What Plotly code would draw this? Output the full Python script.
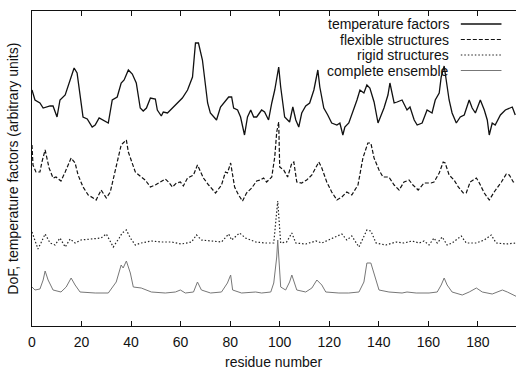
import plotly.graph_objects as go

# ---- data (residue number, arbitrary-unit values) ----
temp_res = [0, 1.2, 3.2, 4.5, 7.3, 8.5, 10.1, 11.3, 13.4, 15.4, 17, 18.2, 19.4, 20.6, 22.3, 24.3, 25.5, 27.1,
            30.8, 32.4, 34.4, 36, 37.2, 38.9, 40.5, 42.1, 43.7, 44.9, 46.2, 47.8, 49.8, 50.6, 52.2, 53, 54.7,
            57.1, 60.7, 62.8, 64.8, 66, 67.2, 68.8, 70.9, 72, 74.5, 76.1, 77.7, 79.4, 80.6, 81.4, 83, 84.2,
            85.8, 87, 88.3, 89.5, 90.7, 92.7, 93.9, 95.5, 96.8, 98, 99.6, 100.4, 102, 104, 105.3, 106.5, 107.7,
            108.9, 110.5, 112.1, 113.8, 115.4, 116.2, 117.8, 119.4, 121, 123.1, 124.3, 125.5, 126.3, 127.9,
            129.1, 131.2, 132.4, 134, 135.2, 136.4, 138.1, 139.7, 142.1, 143.7, 144.5, 146.2, 147.4, 149.4,
            151.4, 152.6, 154.3, 155.5, 157.5, 158.7, 159.5, 161.5, 162.8, 164.4, 165.2, 166.4, 168.4, 169.6,
            171.3, 172.9, 174.5, 176.5, 177.7, 179, 181, 182.6, 183.8, 184.6, 185.8, 187, 189.1, 191.1, 193.9,
            195.1]
temp_val = [236, 226, 223, 218, 220, 220, 209, 226, 231, 246, 258, 253, 229, 209, 207, 199, 201, 208,
            203, 226, 229, 243, 246, 256, 252, 243, 218, 215, 218, 228, 227, 216, 210, 214, 213,
            219, 228, 236, 249, 283, 283, 266, 223, 213, 206, 219, 224, 229, 229, 218, 216, 209,
            191, 209, 216, 209, 209, 216, 214, 206, 223, 236, 259, 239, 209, 204, 219, 206, 199,
            213, 220, 223, 236, 256, 239, 218, 211, 203, 201, 203, 191, 199, 203,
            211, 226, 236, 233, 241, 238, 224, 203, 218, 231, 243, 223, 224, 226,
            216, 219, 206, 201, 203, 211, 216, 213, 226, 233, 249, 260, 226, 213,
            203, 209, 211, 226, 218, 213, 226, 216, 206, 191, 203, 201, 211, 216, 219,
            211]

flex_res = [0, 0.4, 1.6, 3.2, 4, 5.3, 6.9, 8.5, 9.7, 11.7, 13.4, 15.8, 17.4, 18.6, 20.6, 22.7, 24.7, 25.9,
            27.9, 30, 31.6, 33.2, 34.8, 36, 36.8, 38.1, 38.9, 40.1, 41.7, 44.1, 45.7, 47.8, 49.8, 51.8, 53.8,
            55.1, 56.7, 58.3, 59.9, 61.1, 62.8, 65.2, 66.8, 69.2, 71.3, 74.1, 76.5, 78.1, 78.9, 80.2, 81.8,
            83.4, 85, 86.6, 88.7, 90.7, 92.3, 93.5, 94.7, 96.8, 98, 98.8, 99.6, 100, 101.6, 103.2, 104.9,
            105.7, 106.9, 108.9, 110.9, 113, 115.8, 117, 119, 121, 123.1, 125.1, 127.1, 129.1, 131.6, 133.6,
            135.6, 136.8, 138.1, 140.1, 141.7, 144.1, 146.2, 148.2, 150.2, 152.2, 153.8, 155.9, 158.3, 161.1,
            162.3, 164.4, 166, 166.8, 168.4, 170.4, 172.1, 174.1, 175.3, 176.9, 179.4, 180.6, 182.6, 184.6,
            186.6, 189.5, 191.5, 192.7, 194.3, 195.5]
flex_val = [181, 161, 154, 154, 164, 176, 158, 148, 149, 145, 154, 168, 163, 151, 139, 131, 128, 126,
            136, 128, 134, 151, 168, 181, 183, 186, 174, 166, 154, 149, 146, 139, 141, 144, 147,
            144, 139, 143, 144, 140, 148, 151, 161, 148, 141, 133, 141, 154, 153, 163, 139,
            131, 125, 133, 138, 145, 146, 148, 144, 149, 169, 194, 204, 159, 156, 149, 163,
            164, 144, 143, 146, 151, 164, 158, 144, 134, 126, 129, 134, 131, 141, 168,
            183, 183, 168, 156, 149, 149, 141, 136, 144, 146, 141, 136, 143, 143,
            144, 153, 164, 163, 151, 146, 139, 133, 133, 144, 148, 143, 133, 126,
            134, 144, 152, 151, 144, 144]

rigid_res = [0, 1.2, 2.4, 3.6, 5.3, 7.3, 9.3, 11.3, 13.4, 15.4, 17.4, 19.8, 23.9, 27.9, 30, 32.8, 35.2,
             36.4, 38.1, 39.7, 41.7, 44.1, 48.2, 52.2, 56.3, 60.3, 64.4, 66.4, 68.4, 72.5, 76.5, 79.4, 80.6,
             83.8, 86.2, 90.3, 94.3, 97.6, 98.4, 99.2, 100.4, 102.8, 104.9, 106.5, 110.5, 114.6, 117, 122.7,
             125.1, 127.1, 129.1, 132, 134, 135.2, 136.8, 138.9, 142.9, 147, 150.2, 153.4, 156.3, 158.3,
             160.3, 162.3, 163.6, 165.6, 167.6, 169.6, 173.3, 175.3, 179.4, 182.6, 185.4, 187.4, 191.5, 195.5]
rigid_val = [94, 86, 77, 83, 92, 83, 81, 88, 79, 87, 83, 86, 87, 88, 92, 79, 88,
             93, 96, 88, 81, 83, 85, 84, 84, 82, 84, 91, 86, 85, 84, 92, 86,
             93, 88, 84, 83, 83, 103, 125, 83, 84, 93, 83, 82, 85, 83, 89,
             92, 86, 90, 79, 89, 96, 95, 83, 81, 84, 83, 85, 83, 85,
             81, 88, 83, 89, 81, 83, 90, 83, 83, 86, 91, 83, 82, 83]

comp_res = [0, 1.2, 3.2, 4.5, 5.3, 6.5, 8.5, 11.7, 13.8, 15.8, 17.4, 19.4, 25.5, 30.8, 34, 36, 36.8, 38.1,
            39.7, 40.9, 44.1, 48.2, 53.8, 57.9, 59.9, 61.9, 65.2, 66.8, 68.4, 72.1, 76.5, 78.1, 78.9, 80.2,
            81, 84.6, 90.3, 92.7, 96.4, 97.6, 98.8, 99.2, 100.4, 102.4, 104, 104.9, 106.1, 106.9, 110.5, 113,
            115, 117, 118.6, 123.9, 127.9, 132, 134, 135.2, 136.8, 138.5, 140.1, 144.1, 149.4, 151.4, 155.1,
            160.3, 163.6, 165.2, 166.4, 167.6, 169.6, 173.7, 176.5, 179.4, 181.8, 185.8, 189.9, 191.9, 194.7, 196]
comp_val = [39, 36, 37, 46, 55, 46, 36, 34, 39, 48, 41, 34, 33, 33, 44, 61, 58, 65,
            53, 39, 38, 34, 33, 34, 36, 33, 34, 44, 36, 33, 34, 41, 43, 51,
            36, 33, 34, 33, 34, 43, 69, 86, 39, 36, 44, 51, 43, 36, 34, 38,
            46, 41, 34, 33, 33, 34, 44, 63, 63, 48, 36, 34, 33, 34, 33,
            33, 34, 41, 48, 41, 34, 31, 34, 38, 34, 32, 36, 34, 30, 29]

legend_labels = ["temperature factors", "flexible structures", "rigid structures", "complete ensemble"]
x_ticks = [0, 20, 40, 60, 80, 100, 120, 140, 160, 180]
x_title = "residue number"
y_title = "DoF, temperature factors (arbitrary units)"

FONT = "Liberation Sans, Arial, Helvetica, sans-serif"

styles = [
    dict(color="#111111", width=1.3, dash="solid"),
    dict(color="#111111", width=1.2, dash="4px,2px"),
    dict(color="#222222", width=1.2, dash="1.5px,2px"),
    dict(color="#777777", width=1.0, dash="solid"),
]
series = [(temp_res, temp_val), (flex_res, flex_val), (rigid_res, rigid_val), (comp_res, comp_val)]

fig = go.Figure()
for (xr, yv), st, name in zip(series, styles, legend_labels):
    fig.add_trace(go.Scatter(x=xr, y=yv, mode="lines", line=st, name=name, showlegend=False,
                             hoverinfo="skip"))

# gnuplot-style key: right-aligned text with sample line on the right
shapes = []
annotations = []
for i, (name, st) in enumerate(zip(legend_labels, styles)):
    yp = 1 - (13 + 15.5 * i) / 315.0
    annotations.append(dict(x=0.866, y=yp, xref="paper", yref="paper", text=name, showarrow=False,
                            xanchor="right", yanchor="middle", font=dict(family=FONT, size=14, color="#111")))
    shapes.append(dict(type="line", xref="paper", yref="paper", x0=0.886, x1=0.97, y0=yp, y1=yp,
                       line=dict(color=st["color"], width=st["width"], dash=st["dash"])))

# axis titles
annotations.append(dict(x=0.5, y=-0.114, xref="paper", yref="paper", text=x_title, showarrow=False,
                        xanchor="center", yanchor="middle", font=dict(family=FONT, size=14, color="#111")))
annotations.append(dict(x=-0.041, y=0.5, xref="paper", yref="paper", text=y_title, showarrow=False,
                        textangle=-90, xanchor="center", yanchor="middle",
                        font=dict(family=FONT, size=14, color="#111")))

fig.update_layout(
    width=516, height=371,
    margin=dict(l=32, r=0, t=11, b=45),
    paper_bgcolor="white", plot_bgcolor="white",
    font=dict(family=FONT, size=14, color="#111"),
    shapes=shapes, annotations=annotations,
    hovermode=False,
    xaxis=dict(range=[0, 195.4], tickvals=x_ticks, ticktext=[str(t) for t in x_ticks],
               ticks="inside", ticklen=5, tickcolor="#111", showline=True, linecolor="#111", linewidth=1.2,
               mirror="ticks", showgrid=False, zeroline=False, ticklabelstandoff=3),
    yaxis=dict(range=[0, 315], showticklabels=False, ticks="", showline=True, linecolor="#111",
               linewidth=1.2, showgrid=False, zeroline=False),
)

fig.write_html("out.html", config={"displayModeBar": False, "staticPlot": True},
               post_script="document.body.style.margin='0';document.body.style.padding='0';")
